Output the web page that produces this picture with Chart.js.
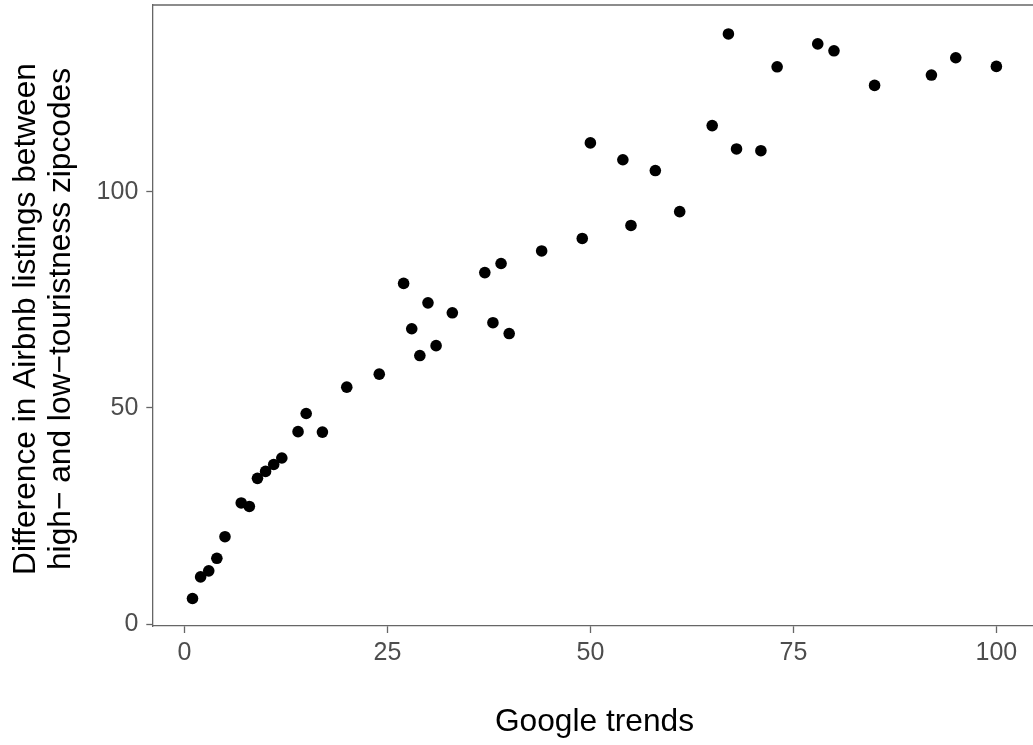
<!DOCTYPE html>
<html>
<head>
<meta charset="utf-8">
<script src="https://cdn.jsdelivr.net/npm/chart.js@4"></script>
<style>
  html, body { margin: 0; padding: 0; background: #fff; overflow: hidden; }
  #wrap { position: relative; width: 1033px; height: 745px; }
</style>
</head>
<body>
<div id="wrap"><canvas id="trends-chart"></canvas></div>
<script>
// google trends score (x) and listing difference (y)
const trends = [1, 2, 3, 4, 5, 7, 8, 9, 10, 11, 12, 14, 15, 17, 20, 24, 27, 28, 29, 30,
  31, 33, 37, 38, 39, 40, 44, 49, 50, 54, 55, 58, 61, 65, 67, 68, 71, 73, 78, 80,
  85, 92, 95, 100];
const diffs = [5.9, 10.9, 12.3, 15.2, 20.2, 28.0, 27.2, 33.7, 35.3, 36.9, 38.4, 44.5, 48.7, 44.4, 54.8, 57.8, 78.8, 68.3, 62.1, 74.3,
  64.4, 72.0, 81.3, 69.7, 83.4, 67.2, 86.3, 89.2, 111.3, 107.4, 92.2, 104.9, 95.4, 115.3, 136.5, 109.9, 109.5, 128.9, 134.2, 132.6,
  124.6, 127.0, 131.0, 129.0];

const xTicks = [0, 25, 50, 75, 100];
const yTicks = [0, 50, 100];

const xTitle = "Google trends";
const yTitle = ["Difference in Airbnb listings between", "high\u2212 and low\u2212touristness zipcodes"];

const FONT = "'Liberation Sans', Arial, sans-serif";

function renderChart() {
  const ctx = document.getElementById("trends-chart");

  const points = [];
  for (let i = 0; i < trends.length; i++) {
    points.push({ x: trends[i], y: diffs[i] });
  }

  // top border of the panel + axis titles
  const frame = {
    id: "frame",
    afterDraw: (chart) => {
      const { ctx, chartArea } = chart;
      ctx.save();
      ctx.strokeStyle = "#666";
      ctx.lineWidth = 1.3;
      ctx.beginPath();
      ctx.moveTo(chartArea.left, chartArea.top);
      ctx.lineTo(chartArea.right, chartArea.top);
      ctx.stroke();

      ctx.fillStyle = "#000";
      ctx.font = "31.7px " + FONT;
      ctx.textAlign = "center";
      ctx.textBaseline = "alphabetic";
      // the panel runs a few px past the right edge of the picture
      ctx.fillText(xTitle, 594.5, 731);

      const baselines = [35, 69.5];
      for (let i = 0; i < yTitle.length; i++) {
        ctx.save();
        ctx.translate(baselines[i], 319);
        ctx.rotate(-Math.PI / 2);
        ctx.fillText(yTitle[i], 0, 0);
        ctx.restore();
      }
      ctx.restore();
    },
  };

  new Chart(ctx, {
    type: "scatter",
    data: {
      datasets: [
        {
          data: points,
          pointRadius: 5.8,
          pointHoverRadius: 5.8,
          backgroundColor: "#000",
          borderWidth: 0,
        },
      ],
    },
    options: {
      animation: false,
      responsive: true,
      maintainAspectRatio: false,
      layout: { autoPadding: false, padding: { top: 5, left: 0, right: 0, bottom: 0 } },
      plugins: {
        legend: { display: false },
        tooltip: { enabled: false },
      },
      scales: {
        x: {
          type: "linear",
          min: -3.95,
          max: 104.51,
          afterBuildTicks: (s) => {
            s.ticks = xTicks.map((v) => ({ value: v }));
          },
          afterFit: (s) => {
            s.height = 119;
            s.paddingLeft = 0;
            s.paddingRight = 0;
          },
          ticks: {
            font: { size: 25, family: FONT },
            color: "#4d4d4d",
            padding: 5,
            maxRotation: 0,
            autoSkip: false,
          },
          grid: { drawOnChartArea: false, tickLength: 7, tickColor: "#666", tickWidth: 1.3 },
          border: { color: "#666", width: 1.3 },
        },
        y: {
          type: "linear",
          min: -0.46,
          max: 143.2,
          afterBuildTicks: (s) => {
            s.ticks = yTicks.map((v) => ({ value: v }));
          },
          afterFit: (s) => {
            s.width = 152.3;
            s.paddingTop = 0;
            s.paddingBottom = 0;
          },
          ticks: {
            font: { size: 25, family: FONT },
            color: "#4d4d4d",
            padding: 8,
            autoSkip: false,
          },
          grid: { drawOnChartArea: false, tickLength: 6, tickColor: "#666", tickWidth: 1.3 },
          border: { color: "#666", width: 1.3 },
        },
      },
    },
    plugins: [frame],
  });
}

renderChart();
</script>
</body>
</html>
